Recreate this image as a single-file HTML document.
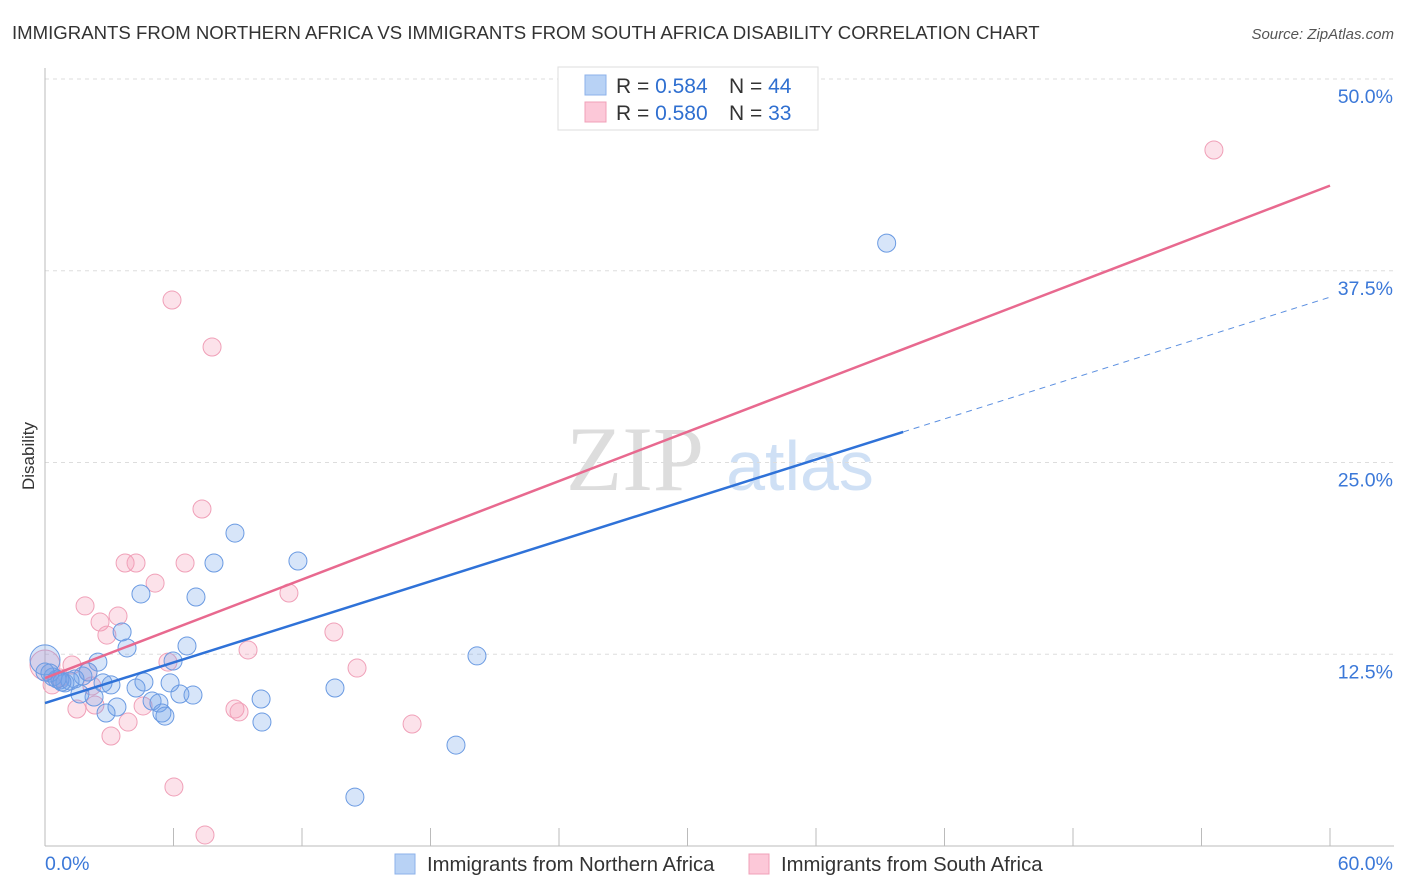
<!DOCTYPE html>
<html><head><meta charset="utf-8"><style>
body{margin:0;background:#fff;font-family:"Liberation Sans",sans-serif}
svg{display:block}
</style></head><body>
<svg id="chart" width="1406" height="892">
<text x="12" y="39" font-size="18.6" fill="#333">IMMIGRANTS FROM NORTHERN AFRICA VS IMMIGRANTS FROM SOUTH AFRICA DISABILITY CORRELATION CHART</text>
<text x="1394" y="39" font-size="15" fill="#555" font-style="italic" text-anchor="end">Source: ZipAtlas.com</text>
<text x="34" y="456" font-size="17" fill="#333" text-anchor="middle" transform="rotate(-90 34 456)">Disability</text>
<g><text x="635" y="490" font-size="92" font-family="Liberation Serif,serif" fill="#ddd" text-anchor="middle">ZIP</text><text x="800" y="490" font-size="70" fill="#cfe0f5" text-anchor="middle">atlas</text></g>
<g id="grid"></g><g id="axes"></g><g id="marks"></g>
<g>
<rect x="558" y="67" width="260" height="63" fill="#fff" stroke="#ddd"/>
<rect x="585" y="75" width="21" height="20" fill="#b8d2f5" stroke="#8cb2ea"/>
<rect x="585" y="102" width="21" height="20" fill="#fcc8d8" stroke="#f0a0b8"/>
<text x="616" y="93" font-size="21" fill="#333">R = <tspan fill="#2f6fd0">0.584</tspan></text>
<text x="729" y="93" font-size="21" fill="#333">N = <tspan fill="#2f6fd0">44</tspan></text>
<text x="616" y="120" font-size="21" fill="#333">R = <tspan fill="#2f6fd0">0.580</tspan></text>
<text x="729" y="120" font-size="21" fill="#333">N = <tspan fill="#2f6fd0">33</tspan></text>
</g>
<g>
<rect x="395" y="854" width="20" height="20" fill="#b8d2f5" stroke="#8cb2ea"/>
<text x="427" y="871" font-size="20.3" fill="#333">Immigrants from Northern Africa</text>
<rect x="749" y="854" width="20" height="20" fill="#fcc8d8" stroke="#f0a0b8"/>
<text x="781" y="871" font-size="20.3" fill="#333">Immigrants from South Africa</text>
</g>
</svg>
<script>
const yTicks=[12.5,25,37.5,50];
const yTickLabels=["12.5%","25.0%","37.5%","50.0%"];
const xTickCount=10;
const blueX=[39.3,8.87,11.81,7.89,4.48,7.05,3.60,3.83,6.63,5.98,2.47,20.17,13.54,6.30,6.91,10.09,5.00,5.32,3.36,5.46,5.60,2.85,10.13,19.19,14.47,4.25,4.62,5.84,3.08,1.77,2.01,1.40,0.70,0.93,0.37,1.17,2.71,1.63,2.29,0,0.23,0.56,0.79,0];
const blueY=[39.3,20.4,18.58,18.45,16.43,16.23,13.95,12.91,13.04,12.06,11.99,12.39,10.30,9.91,9.84,9.58,9.45,9.32,9.06,8.67,8.47,8.67,8.08,6.58,3.19,10.30,10.69,10.63,10.50,11.08,11.34,10.89,10.82,10.63,11.02,10.76,10.63,9.91,9.71,12.13,11.28,10.89,10.69,11.34];
const pinkX=[54.58,5.93,7.80,7.33,3.74,4.25,6.54,5.14,11.39,1.87,3.41,2.57,2.89,13.49,9.48,5.74,1.26,14.57,2.01,2.19,2.33,1.49,4.58,8.87,9.06,3.88,17.14,3.08,6.02,7.47,0,0.33,0.70];
const pinkY=[45.37,35.59,32.53,21.97,18.45,18.45,18.45,17.14,16.49,15.65,14.99,14.60,13.75,13.95,12.78,11.99,11.80,11.60,11.34,10.43,9.19,8.93,9.13,8.93,8.74,8.08,7.95,7.17,3.85,0.72,11.80,10.50,10.95];
const blueTrend=[9.32,0.441]; const blueSolidEnd=40.07;
const pinkTrend=[10.95,0.535];
const NS="http://www.w3.org/2000/svg";
const X=v=>45+v/60*1285, Y=v=>846-v/50*767;
function mk(t,a,p){const e=document.createElementNS(NS,t);for(const k in a)e.setAttribute(k,a[k]);document.getElementById(p).appendChild(e);return e;}
yTicks.forEach((t,i)=>{
 const l=mk('line',{x1:45,x2:1394,y1:Y(t),y2:Y(t),stroke:'#ddd','stroke-dasharray':'4,4'},'grid');
 
 
 const tx=mk('text',{x:1393,y:Y(t)+24,'font-size':19.5,fill:'#3b78d8','text-anchor':'end'},'grid');
 tx.textContent=yTickLabels[i];
 
 
});
let a=mk('line',{x1:45,x2:45,y1:68,y2:846,stroke:'#bbb'},'axes');


a=mk('line',{x1:45,x2:1394,y1:846,y2:846,stroke:'#bbb'},'axes');


for(let i=0;i<=xTickCount;i++){const xv=i*60/xTickCount;
 const t=mk('line',{x1:X(xv),x2:X(xv),y1:828,y2:846,stroke:'#bbb'},'axes');
 
 }
[["0.0%",45,"start"],["60.0%",1393,"end"]].forEach(d=>{const t=mk('text',{x:d[1],y:870,'font-size':19.5,fill:'#3b78d8','text-anchor':d[2]},'axes');t.textContent=d[0];
 
 });
function pts(xs,ys,fill,stroke,name){xs.forEach((x,i)=>{const big=(x===0&&i>=xs.length-5&&ys[i]>11.5);
 const c=mk('circle',{cx:X(x),cy:Y(ys[i]),r:big?15:9,fill:fill,stroke:stroke,'stroke-width':1},'marks');
 
 });}
pts(pinkX,pinkY,'rgba(246,160,186,0.3)','#f0a0b8','pink-point');
pts(blueX,blueY,'rgba(110,160,235,0.28)','#6a9ae2','blue-point');
let l=mk('line',{x1:X(0),y1:Y(blueTrend[0]),x2:X(blueSolidEnd),y2:Y(blueTrend[0]+blueTrend[1]*blueSolidEnd),stroke:'#2f72d8','stroke-width':2.5},'marks');


l=mk('line',{x1:X(blueSolidEnd),y1:Y(blueTrend[0]+blueTrend[1]*blueSolidEnd),x2:X(60),y2:Y(blueTrend[0]+blueTrend[1]*60),stroke:'#5b8fe0','stroke-width':1,'stroke-dasharray':'6,5'},'marks');


l=mk('line',{x1:X(0),y1:Y(pinkTrend[0]),x2:X(60),y2:Y(pinkTrend[0]+pinkTrend[1]*60),stroke:'#e8698f','stroke-width':2.5},'marks');


</script>
</body></html>
